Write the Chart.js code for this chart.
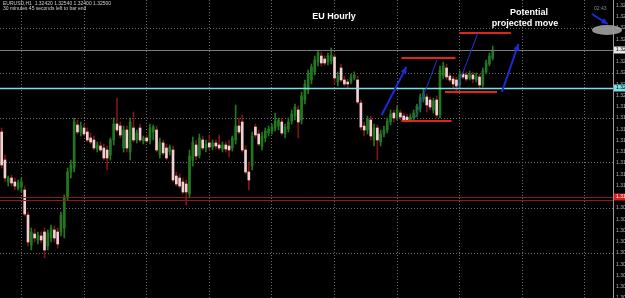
<!DOCTYPE html>
<html>
<head>
<meta charset="utf-8">
<script src="https://cdn.jsdelivr.net/npm/chart.js@4.4.0/dist/chart.umd.min.js"></script>
<style>
  html, body { margin: 0; padding: 0; background: #000; }
  canvas { display: block; }
</style>
</head>
<body>
<canvas id="euChart" width="625" height="298"></canvas>
<script>
// EURUSD H1 candles
const opens = [
  1.3168, 1.3140, 1.3118, 1.3122, 1.3118, 1.3112, 1.3113, 1.3110, 1.3085, 1.3055,
  1.3066, 1.3060, 1.3064, 1.3068, 1.3054, 1.3062, 1.3070, 1.3068, 1.3068, 1.3072,
  1.3103, 1.3128, 1.3132, 1.3175, 1.3168, 1.3172, 1.3168, 1.3162, 1.3160, 1.3151,
  1.3154, 1.3152, 1.3150, 1.3145, 1.3160, 1.3176, 1.3174, 1.3152, 1.3170, 1.3148,
  1.3172, 1.3160, 1.3172, 1.3159, 1.3162, 1.3160, 1.3168, 1.3170, 1.3145, 1.3157,
  1.3152, 1.3148, 1.3150, 1.3124, 1.3122, 1.3118, 1.3116, 1.3106, 1.3140, 1.3155,
  1.3145, 1.3160, 1.3152, 1.3157, 1.3153, 1.3157, 1.3155, 1.3151, 1.3155, 1.3154,
  1.3152, 1.3160, 1.3174, 1.3178, 1.3150, 1.3128, 1.3134, 1.3173, 1.3166, 1.3154,
  1.3162, 1.3167, 1.3169, 1.3172, 1.3174, 1.3178, 1.3166, 1.3171, 1.3179, 1.3184,
  1.3190, 1.3180, 1.3200, 1.3210, 1.3220, 1.3228, 1.3238, 1.3244, 1.3241, 1.3238,
  1.3239, 1.3243, 1.3218, 1.3232, 1.3220, 1.3218, 1.3218, 1.3222, 1.3220, 1.3197,
  1.3174, 1.3170, 1.3180, 1.3160, 1.3172, 1.3158, 1.3166, 1.3170, 1.3178, 1.3187,
  1.3182, 1.3187, 1.3184, 1.3183, 1.3180, 1.3182, 1.3186, 1.3192, 1.3201, 1.3203,
  1.3200, 1.3190, 1.3200, 1.3185, 1.3224, 1.3232, 1.3224, 1.3221, 1.3220, 1.3215,
  1.3226, 1.3225, 1.3222, 1.3225, 1.3220, 1.3223, 1.3215, 1.3228, 1.3236, 1.3242
];
const highs = [
  1.3172, 1.3145, 1.3124, 1.3125, 1.3122, 1.3120, 1.3122, 1.3114, 1.3088, 1.3072,
  1.3071, 1.3068, 1.3068, 1.3072, 1.3070, 1.3075, 1.3074, 1.3072, 1.3088, 1.3105,
  1.3132, 1.3140, 1.3182, 1.3180, 1.3178, 1.3176, 1.3172, 1.3167, 1.3164, 1.3158,
  1.3158, 1.3156, 1.3154, 1.3162, 1.3182, 1.3202, 1.3178, 1.3174, 1.3174, 1.3182,
  1.3188, 1.3170, 1.3176, 1.3164, 1.3165, 1.3176, 1.3175, 1.3174, 1.3162, 1.3160,
  1.3156, 1.3155, 1.3154, 1.3128, 1.3126, 1.3122, 1.3120, 1.3150, 1.3163, 1.3160,
  1.3166, 1.3164, 1.3160, 1.3165, 1.3160, 1.3160, 1.3165, 1.3158, 1.3158, 1.3160,
  1.3164, 1.3195, 1.3182, 1.3185, 1.3154, 1.3138, 1.3168, 1.3176, 1.3170, 1.3168,
  1.3172, 1.3174, 1.3176, 1.3187, 1.3182, 1.3182, 1.3176, 1.3182, 1.3190, 1.3196,
  1.3194, 1.3208, 1.3220, 1.3230, 1.3236, 1.3244, 1.3250, 1.3248, 1.3244, 1.3247,
  1.3252, 1.3246, 1.3228, 1.3236, 1.3224, 1.3221, 1.3226, 1.3228, 1.3224, 1.3200,
  1.3178, 1.3184, 1.3184, 1.3176, 1.3175, 1.3170, 1.3174, 1.3182, 1.3190, 1.3190,
  1.3194, 1.3190, 1.3187, 1.3186, 1.3186, 1.3190, 1.3196, 1.3206, 1.3211, 1.3206,
  1.3203, 1.3202, 1.3204, 1.3234, 1.3238, 1.3236, 1.3227, 1.3224, 1.3223, 1.3229,
  1.3228, 1.3228, 1.3229, 1.3228, 1.3227, 1.3226, 1.3232, 1.3240, 1.3247, 1.3254
];
const lows = [
  1.3132, 1.3118, 1.3114, 1.3114, 1.3110, 1.3110, 1.3108, 1.3084, 1.3054, 1.3050,
  1.3058, 1.3056, 1.3057, 1.3042, 1.3050, 1.3058, 1.3058, 1.3052, 1.3064, 1.3062,
  1.3100, 1.3122, 1.3128, 1.3166, 1.3164, 1.3164, 1.3158, 1.3156, 1.3150, 1.3148,
  1.3148, 1.3140, 1.3130, 1.3140, 1.3155, 1.3168, 1.3162, 1.3148, 1.3148, 1.3140,
  1.3158, 1.3157, 1.3158, 1.3156, 1.3157, 1.3156, 1.3160, 1.3148, 1.3142, 1.3145,
  1.3140, 1.3145, 1.3118, 1.3114, 1.3112, 1.3106, 1.3095, 1.3102, 1.3134, 1.3140,
  1.3142, 1.3150, 1.3148, 1.3150, 1.3150, 1.3151, 1.3150, 1.3148, 1.3148, 1.3143,
  1.3149, 1.3156, 1.3166, 1.3148, 1.3126, 1.3110, 1.3130, 1.3162, 1.3154, 1.3150,
  1.3158, 1.3164, 1.3166, 1.3169, 1.3170, 1.3165, 1.3162, 1.3168, 1.3176, 1.3180,
  1.3162, 1.3176, 1.3196, 1.3206, 1.3216, 1.3225, 1.3234, 1.3234, 1.3235, 1.3235,
  1.3236, 1.3216, 1.3214, 1.3218, 1.3214, 1.3212, 1.3216, 1.3220, 1.3196, 1.3170,
  1.3164, 1.3166, 1.3160, 1.3154, 1.3140, 1.3154, 1.3163, 1.3167, 1.3175, 1.3178,
  1.3180, 1.3180, 1.3178, 1.3178, 1.3178, 1.3180, 1.3183, 1.3188, 1.3198, 1.3188,
  1.3190, 1.3187, 1.3182, 1.3182, 1.3221, 1.3220, 1.3218, 1.3212, 1.3209, 1.3212,
  1.3221, 1.3219, 1.3220, 1.3217, 1.3218, 1.3212, 1.3213, 1.3226, 1.3234, 1.3240
];
const closes = [
  1.3135, 1.3122, 1.3122, 1.3117, 1.3114, 1.3117, 1.3118, 1.3086, 1.3058, 1.3068,
  1.3062, 1.3065, 1.3060, 1.3050, 1.3067, 1.3072, 1.3062, 1.3056, 1.3085, 1.3102,
  1.3128, 1.3135, 1.3178, 1.3168, 1.3174, 1.3166, 1.3160, 1.3158, 1.3152, 1.3155,
  1.3150, 1.3142, 1.3142, 1.3160, 1.3176, 1.3170, 1.3165, 1.3170, 1.3152, 1.3178,
  1.3160, 1.3167, 1.3160, 1.3162, 1.3159, 1.3172, 1.3173, 1.3150, 1.3158, 1.3147,
  1.3142, 1.3153, 1.3120, 1.3116, 1.3114, 1.3108, 1.3108, 1.3144, 1.3158, 1.3144,
  1.3162, 1.3152, 1.3156, 1.3153, 1.3157, 1.3154, 1.3152, 1.3155, 1.3151, 1.3150,
  1.3162, 1.3174, 1.3168, 1.3150, 1.3128, 1.3120, 1.3164, 1.3165, 1.3156, 1.3164,
  1.3169, 1.3171, 1.3173, 1.3179, 1.3180, 1.3167, 1.3173, 1.3178, 1.3186, 1.3193,
  1.3178, 1.3204, 1.3216, 1.3226, 1.3233, 1.3240, 1.3247, 1.3237, 1.3237, 1.3244,
  1.3245, 1.3222, 1.3224, 1.3220, 1.3216, 1.3216, 1.3223, 1.3225, 1.3198, 1.3173,
  1.3170, 1.3181, 1.3164, 1.3172, 1.3160, 1.3166, 1.3170, 1.3179, 1.3186, 1.3182,
  1.3190, 1.3183, 1.3180, 1.3180, 1.3183, 1.3187, 1.3194, 1.3203, 1.3207, 1.3195,
  1.3193, 1.3199, 1.3185, 1.3230, 1.3234, 1.3223, 1.3220, 1.3216, 1.3214, 1.3226,
  1.3223, 1.3221, 1.3226, 1.3221, 1.3224, 1.3215, 1.3229, 1.3237, 1.3244, 1.3250
];

// price labels on the right axis
const priceTicks = [
  1.32945, 1.32833, 1.32720, 1.32608, 1.32495, 1.32383, 1.32270, 1.32158, 1.32045,
  1.31933, 1.31820, 1.31708, 1.31595, 1.31483, 1.31370, 1.31258, 1.31145, 1.31033,
  1.30920, 1.30808, 1.30695, 1.30583, 1.30470, 1.30358, 1.30245, 1.30133, 1.30020
];

// horizontal line objects: gray, cyan, two dark red
const levelPrices = [1.3250, 1.3212, 1.3103, 1.3100];

// drawn objects, in (bar index, price)
const redSegments = [[121.3, 137.7, 1.3242], [121.3, 136.5, 1.3179], [138.9, 154.5, 1.3267], [134.5, 150.3, 1.3208]];
const blueArrows = [[115.3, 1.3185, 122.8, 1.3233], [151.8, 1.3208, 156.8, 1.3256], [179.1, 1.3286, 183.9, 1.3276]];
const blueLines = [[125.4, 1.3182, 132.1, 1.3240], [138.2, 1.3212, 144.5, 1.3267]];

// hourly slots, incl. empty space right of the last bar
const hours = [];
const firstHour = Date.UTC(2013, 1, 4, 8);
for (let i = 0; i < 186; i++) {
  hours.push(new Date(firstHour + i * 3600000).toISOString().slice(0, 13).replace('T', ' ') + ':00');
}

const isUp = closes.map((c, i) => c >= opens[i]);
const bodyColors = isUp.map(u => u ? '#22781f' : '#f3cfcf');
const wickColors = isUp.map(u => u ? '#22781f' : '#7e1414');

function arrowHead(ctx, x0, y0, x1, y1, size) {
  const a = Math.atan2(y1 - y0, x1 - x0);
  ctx.beginPath();
  ctx.moveTo(x1, y1);
  ctx.lineTo(x1 - size * Math.cos(a - 0.45), y1 - size * Math.sin(a - 0.45));
  ctx.lineTo(x1 - size * Math.cos(a + 0.45), y1 - size * Math.sin(a + 0.45));
  ctx.closePath();
  ctx.fill();
}

const overlay = {
  id: 'overlay',
  beforeDraw(chart) {
    const ctx = chart.ctx;
    ctx.save();
    ctx.fillStyle = '#000';
    ctx.fillRect(0, 0, chart.width, chart.height);
    ctx.restore();
  },
  afterDatasetsDraw(chart) {
    const { ctx, chartArea: a, scales: { x, y } } = chart;
    ctx.save();

    // level lines
    const levelColors = ['#7d7d7d', '#7fdde6', '#8a1c1c', '#8a1c1c'];
    levelPrices.forEach((p, i) => {
      const py = Math.round(y.getPixelForValue(p)) + 0.5;
      ctx.strokeStyle = levelColors[i];
      ctx.lineWidth = i === 1 ? 1.5 : 1;
      ctx.beginPath();
      ctx.moveTo(a.left, py);
      ctx.lineTo(a.right, py);
      ctx.stroke();
    });

    // red box lines
    ctx.strokeStyle = '#e0241f';
    ctx.lineWidth = 2;
    redSegments.forEach(s => {
      const py = y.getPixelForValue(s[2]);
      ctx.beginPath();
      ctx.moveTo(x.getPixelForValue(s[0]), py);
      ctx.lineTo(x.getPixelForValue(s[1]), py);
      ctx.stroke();
    });

    // thin blue lines
    ctx.strokeStyle = '#2233d8';
    ctx.lineWidth = 1;
    blueLines.forEach(l => {
      ctx.beginPath();
      ctx.moveTo(x.getPixelForValue(l[0]), y.getPixelForValue(l[1]));
      ctx.lineTo(x.getPixelForValue(l[2]), y.getPixelForValue(l[3]));
      ctx.stroke();
    });

    // ellipse on the axis
    ctx.fillStyle = 'rgba(170,170,170,0.85)';
    ctx.beginPath();
    ctx.ellipse(607, y.getPixelForValue(1.3270), 15, 5, 0, 0, Math.PI * 2);
    ctx.fill();

    // arrows
    ctx.strokeStyle = '#1c2bd6';
    ctx.fillStyle = '#1c2bd6';
    ctx.lineWidth = 2;
    blueArrows.forEach(ar => {
      const x0 = x.getPixelForValue(ar[0]), y0 = y.getPixelForValue(ar[1]);
      const x1 = x.getPixelForValue(ar[2]), y1 = y.getPixelForValue(ar[3]);
      ctx.beginPath();
      ctx.moveTo(x0, y0);
      ctx.lineTo(x1, y1);
      ctx.stroke();
      arrowHead(ctx, x0, y0, x1, y1, 7);
    });

    // axis line
    ctx.strokeStyle = '#9a9a9a';
    ctx.lineWidth = 1;
    ctx.beginPath();
    ctx.moveTo(a.right + 0.5, 0);
    ctx.lineTo(a.right + 0.5, chart.height);
    ctx.stroke();

    // price boxes on the axis
    const boxColors = ['#e8e8e8', '#7fdde6', '#d42020'];
    [levelPrices[0], levelPrices[1], levelPrices[2]].forEach((p, i) => {
      const py = y.getPixelForValue(p);
      ctx.fillStyle = boxColors[i];
      ctx.fillRect(a.right + 1, py - 3.5, 12, 7);
      ctx.fillStyle = i === 2 ? '#fff' : '#000';
      ctx.font = '5px "Liberation Sans"';
      ctx.textBaseline = 'middle';
      ctx.textAlign = 'left';
      ctx.fillText(p.toFixed(5), a.right + 3, py);
    });

    // texts
    ctx.fillStyle = '#cfcfcf';
    ctx.font = '5px "Liberation Sans"';
    ctx.textAlign = 'left';
    ctx.textBaseline = 'middle';
    ctx.fillText('EURUSD,H1  1.32420 1.32540 1.32400 1.32500', 3, 4);
    ctx.fillText('30 minutes 45 seconds left to bar end', 3, 9);
    ctx.fillStyle = '#8a8a8a';
    ctx.fillText('02:43', 594, 9);

    ctx.fillStyle = '#ffffff';
    ctx.font = 'bold 9px "Liberation Sans"';
    ctx.textAlign = 'center';
    ctx.fillText('EU Hourly', 334, 17);
    ctx.fillText('Potential', 529, 13);
    ctx.fillText('projected move', 525, 24);
    ctx.restore();
  }
};

new Chart(document.getElementById('euChart'), {
  type: 'bar',
  data: {
    labels: hours,
    datasets: [
      {
        label: 'Wick',
        data: lows.map((l, i) => [l, highs[i]]),
        backgroundColor: wickColors,
        barThickness: 1,
        grouped: false,
        order: 2
      },
      {
        label: 'Body',
        data: opens.map((o, i) => [o, closes[i]]),
        backgroundColor: bodyColors,
        barThickness: 2,
        grouped: false,
        order: 1
      }
    ]
  },
  options: {
    responsive: false,
    animation: false,
    devicePixelRatio: 1,
    layout: { padding: 0 },
    plugins: { legend: { display: false }, tooltip: { enabled: false } },
    scales: {
      x: {
        offset: true,
        ticks: { display: false },
        grid: {
          offset: false,
          drawTicks: false,
          lineWidth: 1,
          color: ctx => ctx.index % 19 === 6 ? '#6e6e6e' : 'transparent'
        },
        border: { display: false, dash: [1, 2] },
        afterFit: s => { s.height = 0; }
      },
      y: {
        position: 'right',
        min: 1.3002,
        max: 1.3300,
        afterBuildTicks: s => { s.ticks = priceTicks.map(v => ({ value: v })); },
        afterFit: s => { s.width = 12; s.paddingTop = 0; s.paddingBottom = 0; },
        ticks: {
          font: { size: 5, family: 'Liberation Sans' },
          color: '#b4b4b4',
          padding: 3,
          callback: v => v.toFixed(5)
        },
        grid: {
          drawTicks: false,
          lineWidth: 1,
          color: ctx => ctx.index % 4 === 2 ? '#6e6e6e' : 'transparent'
        },
        border: { display: false, dash: [1, 2] }
      }
    }
  },
  plugins: [overlay]
});
</script>
</body>
</html>
